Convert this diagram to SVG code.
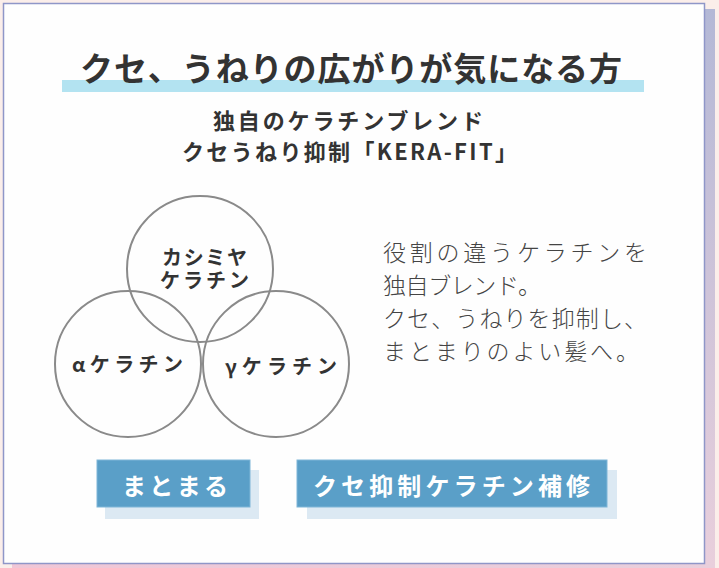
<svg xmlns="http://www.w3.org/2000/svg" width="719" height="568" viewBox="0 0 719 568">
<defs>
<linearGradient id="shadowGrad" x1="0" y1="1" x2="1" y2="0">
<stop offset="0" stop-color="#f0c6d6"/>
<stop offset="0.5" stop-color="#e9cfdc"/>
<stop offset="1" stop-color="#b3b8d6"/>
</linearGradient>
<style>
.jp{font-family:"Noto Sans CJK JP","Noto Sans",sans-serif;}
.title{font-size:33px;font-weight:700;fill:#333;}
.sub{font-size:22px;font-weight:700;fill:#333;}
.circ{fill:none;stroke:#8a8a8a;stroke-width:2;}
.clabel{font-size:20px;font-weight:700;fill:#333;}
.body{font-size:23px;font-weight:300;fill:#444;}
.btn{fill:#5a9fc8;stroke:#7fb6d8;stroke-width:1;}
.btnsh{fill:#dce9f3;}
.btntext{font-size:24px;font-weight:700;fill:#fff;}
</style>
</defs>
<rect x="0" y="0" width="719" height="568" fill="#fbeeea"/>
<rect x="12" y="9" width="703" height="559" fill="url(#shadowGrad)"/>
<rect x="3.5" y="3.5" width="701" height="560" fill="#fefefe" stroke="#8f96c8" stroke-width="1.5"/>

<g id="title">
<rect x="62" y="80" width="582" height="12" fill="#b3e3f1"/>
<text class="jp title" x="80" y="81" textLength="542" lengthAdjust="spacing">クセ、うねりの広がりが気になる方</text>
</g>
<g id="subtitle">
<text class="jp sub" x="213" y="129" textLength="270" lengthAdjust="spacing">独自のケラチンブレンド</text>
<text class="jp sub" x="182" y="160" textLength="335" lengthAdjust="spacing">クセうねり抑制「KERA-FIT」</text>
</g>

<g id="circle-cashmere">
<circle class="circ" cx="200" cy="269" r="73"/>
<text class="jp clabel"><tspan x="162" y="265" textLength="85" lengthAdjust="spacing">カシミヤ</tspan><tspan x="160" y="288" textLength="89" lengthAdjust="spacing">ケラチン</tspan></text>
</g>
<g id="circle-alpha">
<circle class="circ" cx="128" cy="364" r="73"/>
<text class="jp clabel" x="72" y="372" textLength="111" lengthAdjust="spacing">αケラチン</text>
</g>
<g id="circle-gamma">
<circle class="circ" cx="276" cy="364" r="73"/>
<text class="jp clabel" x="225" y="374" textLength="112" lengthAdjust="spacing">γケラチン</text>
</g>

<g id="description">
<text class="jp body" x="383" y="261" textLength="264" lengthAdjust="spacing">役割の違うケラチンを</text>
<text class="jp body" x="383" y="294" textLength="158" lengthAdjust="spacing">独自ブレンド。</text>
<text class="jp body" x="383" y="327" textLength="264" lengthAdjust="spacing">クセ、うねりを抑制し、</text>
<text class="jp body" x="383" y="360" textLength="256" lengthAdjust="spacing">まとまりのよい髪へ。</text>
</g>

<g id="btn-matomaru">
<rect class="btnsh" x="105" y="470" width="154" height="49"/>
<rect class="btn" x="97" y="460" width="153" height="47"/>
<text class="jp btntext" x="122" y="495" textLength="106" lengthAdjust="spacing">まとまる</text>
</g>
<g id="btn-keratin">
<rect class="btnsh" x="307" y="470" width="310" height="49"/>
<rect class="btn" x="297" y="460" width="310" height="47"/>
<text class="jp btntext" x="313" y="495" textLength="277" lengthAdjust="spacing">クセ抑制ケラチン補修</text>
</g>
<g id="connectors"/>
</svg>
